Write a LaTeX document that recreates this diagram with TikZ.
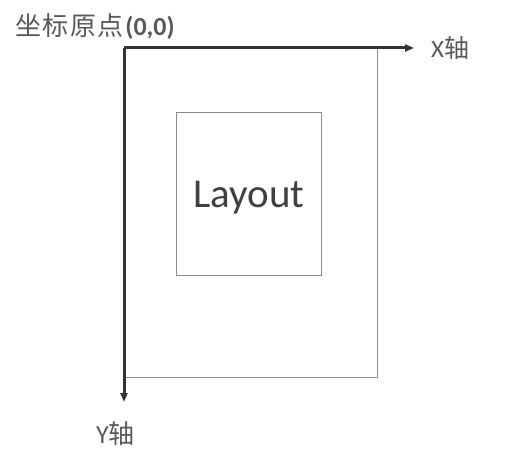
\documentclass[tikz,border=0pt]{standalone}
\usepackage{fontspec}
\setmainfont{Carlito}
\newfontfamily\cjk[LetterSpace=6]{Noto Sans CJK SC}
\usetikzlibrary{arrows.meta}
\begin{document}
\begin{tikzpicture}[x=1pt,y=-1pt,
  axis/.style={draw=black!80,line width=3pt,-{Triangle[length=9pt,width=7pt]}},
  frame/.style={draw=black!45,line width=0.9pt},
  lbl/.style={text=black!65,inner sep=0pt}]
\useasboundingbox (0,0) rectangle (526,454);
\coordinate (O) at (124,48);
\coordinate (XE) at (414,48);
\coordinate (YE) at (124,402);
\node[frame,minimum width=253pt,minimum height=329pt,inner sep=0pt,anchor=north west] (outer) at (124,48) {};
\node[frame,minimum width=145pt,minimum height=163pt,inner sep=0pt,anchor=north west] (inner) at (176,112) {};
\node[lbl,text=black!75,font=\fontsize{41}{44}\selectfont] (lay) at ([yshift=-4pt]inner.center) {Layout};
\draw[axis] (O) -- (XE);
\draw[axis] (O) -- (YE);
\node[lbl,anchor=west,font=\fontsize{26}{28}\selectfont] (orig) at (15,27) {{\cjk 坐标原点}\textbf{(0,0)}};
\node[lbl,anchor=west,font=\fontsize{25}{28}\selectfont] (xl) at (431,48) {X{\cjk 轴}};
\node[lbl,anchor=west,font=\fontsize{26}{28}\selectfont] (yl) at (96,434) {Y{\cjk 轴}};
\end{tikzpicture}
\end{document}
